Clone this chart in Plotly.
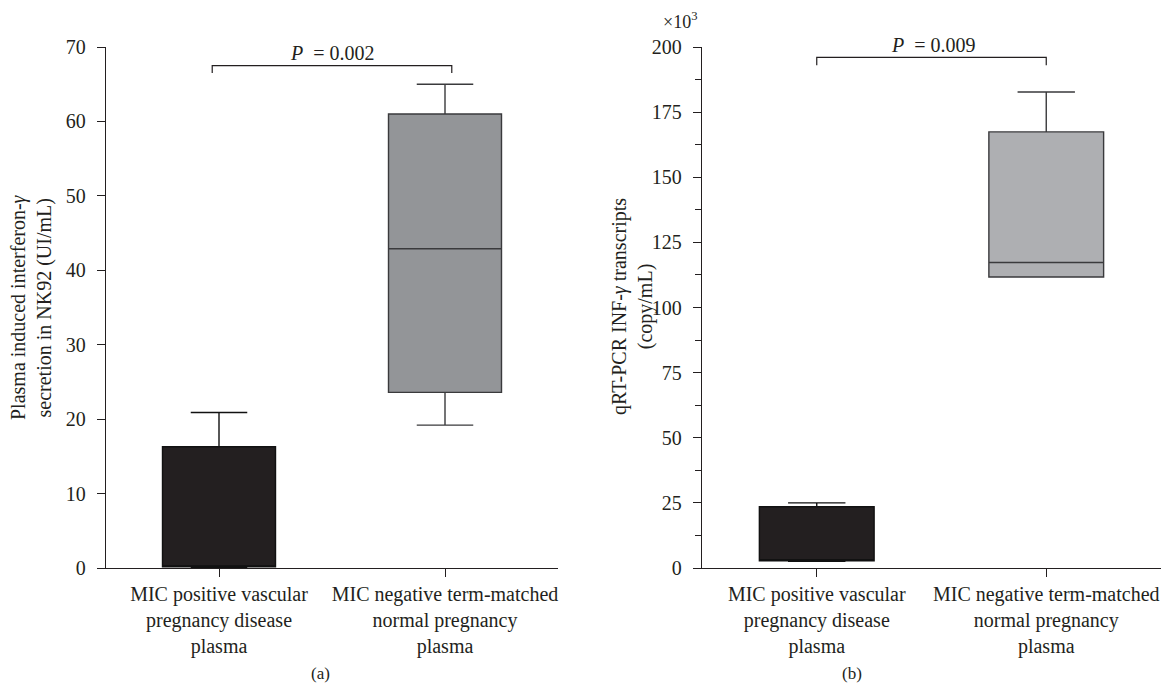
import plotly.graph_objects as go

categories = ["MIC positive vascular<br>pregnancy disease<br>plasma",
              "MIC negative term-matched<br>normal pregnancy<br>plasma"]

# Panel (a): interferon-gamma secretion (UI/mL)
a_lower = [0.0, 19.2]
a_q1 = [0.15, 23.6]
a_median = [0.15, 42.9]
a_q3 = [16.3, 61.0]
a_upper = [20.9, 65.0]

# Panel (b): qRT-PCR INF-gamma transcripts (x10^3 copy/mL)
b_lower = [2.6, 111.7]
b_q1 = [2.8, 111.7]
b_median = [3.0, 117.3]
b_q3 = [23.5, 167.4]
b_upper = [25.0, 182.7]

box_fills = ["#231f20", "#939598"]
box_fills_b = ["#231f20", "#aeafb2"]
box_lines = ["#111111", "#3a3a3c"]

# page body has an 8px margin: figure is placed at (8, 8) in the window
OFF = 8
W, H = 1160, 675
FONT = "Liberation Serif"
INK = "#231f20"


def px(x):
    return (x - OFF) / W


def py(y):
    return 1 - (y - OFF) / H


fig = go.Figure()

for i in range(2):
    fig.add_trace(go.Box(
        x=[categories[i]], q1=[a_q1[i]], median=[a_median[i]], q3=[a_q3[i]],
        lowerfence=[a_lower[i]], upperfence=[a_upper[i]],
        fillcolor=box_fills[i], line=dict(color=box_lines[i], width=1.4),
        width=0.5, whiskerwidth=0.5, boxpoints=False, showlegend=False,
        xaxis="x", yaxis="y", hoverinfo="skip"))
    fig.add_trace(go.Box(
        x=[categories[i]], q1=[b_q1[i]], median=[b_median[i]], q3=[b_q3[i]],
        lowerfence=[b_lower[i]], upperfence=[b_upper[i]],
        fillcolor=box_fills_b[i], line=dict(color=box_lines[i], width=1.4),
        width=0.5, whiskerwidth=0.5, boxpoints=False, showlegend=False,
        xaxis="x2", yaxis="y2", hoverinfo="skip"))

ydom = [py(568), py(47)]
axis_common = dict(showline=True, linecolor=INK, linewidth=1.4, ticks="outside",
                   tickcolor=INK, tickwidth=1.2, ticklen=8, showgrid=False,
                   zeroline=False, automargin=False)
yfont = dict(family=FONT, size=20, color=INK)
xfont = dict(family=FONT, size=20, color=INK)

fig.update_layout(
    width=W, height=H, margin=dict(l=0, r=0, t=0, b=0),
    plot_bgcolor="white", paper_bgcolor="white",
    xaxis=dict(domain=[px(106), px(558)], anchor="y", type="category",
               categoryorder="array", categoryarray=categories, range=[-0.5, 1.5],
               tickfont=xfont, **axis_common),
    yaxis=dict(domain=ydom, anchor="x", range=[0, 70], tickvals=[0, 10, 20, 30, 40, 50, 60, 70],
               tickfont=yfont, ticklabelstandoff=7, **axis_common),
    xaxis2=dict(domain=[px(702), px(1161)], anchor="y2", type="category",
                categoryorder="array", categoryarray=categories, range=[-0.5, 1.5],
                tickfont=xfont, **axis_common),
    yaxis2=dict(domain=ydom, anchor="x2", range=[0, 200],
                tickvals=[0, 25, 50, 75, 100, 125, 150, 175, 200],
                minor=dict(tickvals=[12.5, 37.5, 62.5, 87.5, 112.5, 137.5, 162.5, 187.5],
                           ticks="outside", ticklen=6, tickcolor=INK, tickwidth=1.2),
                tickfont=yfont, ticklabelstandoff=7, **axis_common),
)

line_style = dict(color=INK, width=1.2)
# significance brackets
fig.add_shape(type="path", xref="x", yref="y",
              path="M -0.03,66.5 L -0.03,67.5 L 1.03,67.5 L 1.03,66.5", line=line_style)
fig.add_shape(type="path", xref="x2", yref="y2",
              path="M 0.0,193 L 0.0,196 L 1.0,196 L 1.0,193", line=line_style)

ann_font = dict(family=FONT, size=20, color=INK)


def ann(x, y, text, font, angle=0):
    fig.add_annotation(x=px(x), y=py(y), xref="paper", yref="paper", text=text,
                       showarrow=False, font=font, textangle=angle,
                       xanchor="center", yanchor="middle")


ann(332, 53, "<i>P</i>  = 0.002", ann_font)
ann(933, 45, "<i>P</i>  = 0.009", ann_font)

# y-axis titles
ann(31, 307, "Plasma induced interferon-<i>γ</i><br>secretion in NK92 (UI/mL)", ann_font, -90)
ann(632, 307, "qRT-PCR INF-<i>γ</i> transcripts<br>(copy/mL)", ann_font, -90)
ann(680, 20, "×10<sup>3</sup>", dict(family=FONT, size=18, color=INK))

# panel labels
ann(320, 673, "(a)", dict(family=FONT, size=17, color=INK))
ann(852, 673, "(b)", dict(family=FONT, size=17, color=INK))

fig.write_html("out.html")
